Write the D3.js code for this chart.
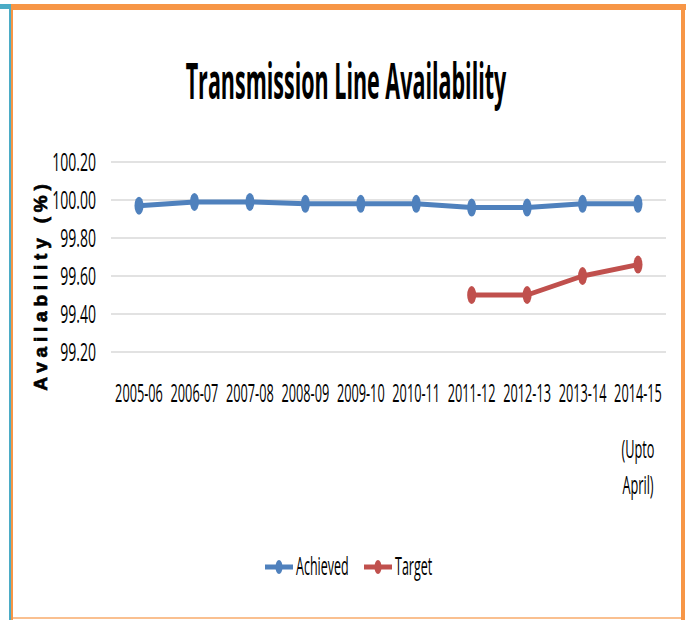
<!DOCTYPE html>
<html>
<head>
<meta charset="utf-8">
<script src="https://cdn.jsdelivr.net/npm/d3@7"></script>
<style>
  body { margin: 0; background: #fff; }
  svg { display: block; }
</style>
</head>
<body>
<div id="chart"></div>
<script>
var years = ["2005-06", "2006-07", "2007-08", "2008-09", "2009-10", "2010-11", "2011-12", "2012-13", "2013-14", "2014-15"];
var achieved = [99.97, 99.99, 99.99, 99.98, 99.98, 99.98, 99.96, 99.96, 99.98, 99.98];
var targetYears = ["2011-12", "2012-13", "2013-14", "2014-15"];
var target = [99.50, 99.50, 99.60, 99.66];
var yTicks = [99.20, 99.40, 99.60, 99.80, 100.00, 100.20];

var W = 686, H = 620;
var font = "'Open Sans', sans-serif";

var svg = d3.select("#chart").append("svg")
  .attr("width", W)
  .attr("height", H);

// frame
svg.append("rect").attr("x", 0).attr("y", 4).attr("width", 11).attr("height", 5).attr("fill", "#4BACC6");
svg.append("rect").attr("x", 9).attr("y", 4).attr("width", 2).attr("height", 616).attr("fill", "#4BACC6");
svg.append("rect").attr("x", 11).attr("y", 4).attr("width", 675).attr("height", 6).attr("fill", "#F79646");
svg.append("rect").attr("x", 11).attr("y", 4).attr("width", 2).attr("height", 616).attr("fill", "#F79646");
svg.append("rect").attr("x", 681).attr("y", 4).attr("width", 4).attr("height", 616).attr("fill", "#F79646");
svg.append("rect").attr("x", 13).attr("y", 617).attr("width", 668).attr("height", 2).attr("fill", "#FAC090");

// the original text is tall and narrow, so squash it horizontally
function label(g, x, y, str, size, sx, anchor, weight) {
  return g.append("text")
    .attr("transform", "translate(" + x + "," + y + ") scale(" + sx + ",1)")
    .attr("text-anchor", anchor)
    .attr("font-family", font)
    .attr("font-size", size)
    .attr("font-weight", weight || "normal")
    .attr("fill", "#000")
    .text(str);
}

// title
label(svg, 346, 99, "Transmission Line Availability", 50, 0.43, "middle", "bold");

var x = d3.scalePoint()
  .domain(years)
  .range([139, 638]);

var y = d3.scaleLinear()
  .domain([99.20, 100.20])
  .range([352, 162]);

// grid lines
svg.append("g").selectAll("line")
  .data(yTicks)
  .join("line")
    .attr("x1", 111)
    .attr("x2", 666)
    .attr("y1", function (d) { return y(d); })
    .attr("y2", function (d) { return y(d); })
    .attr("stroke", "#D9D9D9")
    .attr("stroke-width", 1.5);

// y tick labels
var yl = svg.append("g");
yTicks.forEach(function (t) {
  label(yl, 96, y(t) + 9, t.toFixed(2), 26, 0.54, "end");
});

// y axis title
svg.append("text")
  .attr("transform", "translate(47,285) rotate(-90)")
  .attr("text-anchor", "middle")
  .attr("font-family", "'Liberation Sans', Arial, sans-serif")
  .attr("font-size", 19)
  .attr("font-weight", "bold")
  .attr("letter-spacing", 4.8)
  .attr("stroke", "#000")
  .attr("stroke-width", 0.7)
  .text("Availability (%)");

// x labels
var xl = svg.append("g");
years.forEach(function (yr) {
  label(xl, x(yr), 402, yr, 26, 0.49, "middle");
});
label(xl, x("2014-15"), 458, "(Upto", 26, 0.49, "middle");
label(xl, x("2014-15"), 494, "April)", 26, 0.49, "middle");

var line = d3.line()
  .x(function (d) { return x(d[0]); })
  .y(function (d) { return y(d[1]); });

function drawSeries(cats, vals, color) {
  var pts = cats.map(function (c, i) { return [c, vals[i]]; });
  var g = svg.append("g");
  g.append("path")
    .datum(pts)
    .attr("d", line)
    .attr("fill", "none")
    .attr("stroke", color)
    .attr("stroke-width", 5)
    .attr("stroke-linejoin", "round");
  g.selectAll("ellipse")
    .data(pts)
    .join("ellipse")
      .attr("cx", function (d) { return x(d[0]); })
      .attr("cy", function (d) { return y(d[1]); })
      .attr("rx", 4.5)
      .attr("ry", 9)
      .attr("fill", color);
}

drawSeries(years, achieved, "#4F81BD");
drawSeries(targetYears, target, "#C0504D");

// legend
var legend = [
  { name: "Achieved", color: "#4F81BD", x: 265 },
  { name: "Target", color: "#C0504D", x: 364 }
];
var lg = svg.append("g");
legend.forEach(function (d) {
  lg.append("line")
    .attr("x1", d.x).attr("x2", d.x + 28)
    .attr("y1", 567).attr("y2", 567)
    .attr("stroke", d.color).attr("stroke-width", 5);
  lg.append("ellipse")
    .attr("cx", d.x + 14).attr("cy", 567)
    .attr("rx", 3.5).attr("ry", 7)
    .attr("fill", d.color);
  label(lg, d.x + 31, 575, d.name, 25, 0.5, "start");
});
</script>
</body>
</html>
